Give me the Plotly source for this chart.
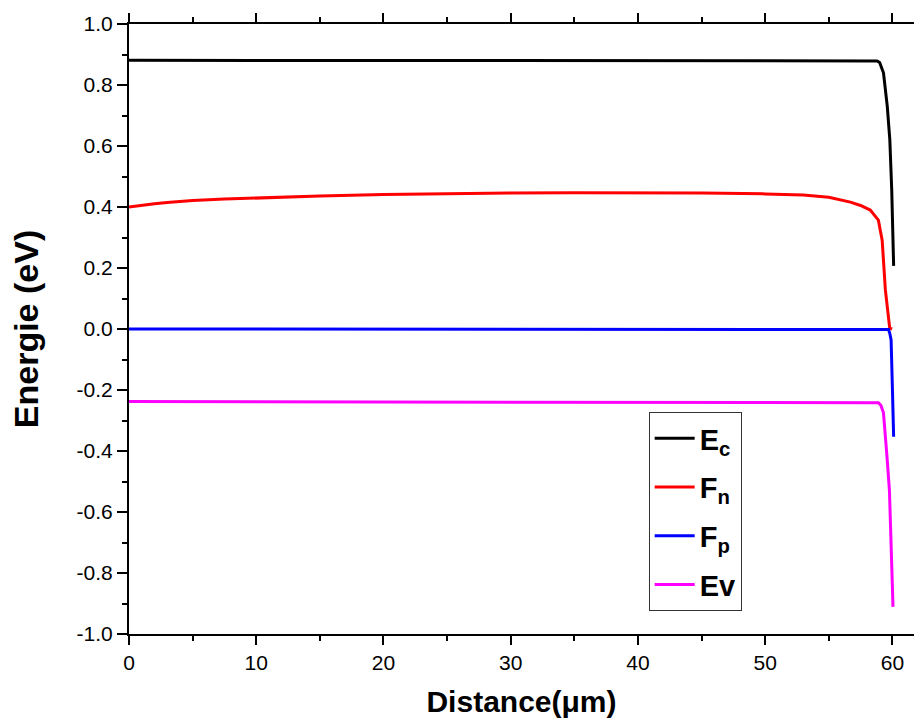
import plotly.graph_objects as go

# ---- data ----
x_ec = [0, 10, 20, 30, 40, 50, 58.8, 59.0, 59.15, 59.3, 59.6, 59.8, 59.95, 60.1]
ec = [0.881, 0.881, 0.880, 0.880, 0.879, 0.879, 0.879, 0.874, 0.860, 0.840, 0.730, 0.620, 0.455, 0.207]

x_fn = [0, 1, 2, 3, 5, 7.5, 10, 15, 20, 25, 30, 35, 40, 45, 50, 53, 55, 56.7, 57.5,
        58.26, 58.9, 59.2, 59.45, 59.79, 59.98]
fn = [0.400, 0.406, 0.411, 0.415, 0.421, 0.426, 0.430, 0.436, 0.441, 0.444, 0.446,
      0.447, 0.447, 0.446, 0.443, 0.439, 0.432, 0.416, 0.405, 0.390, 0.357, 0.290,
      0.128, 0.003, 0.000]

x_fp = [0, 30, 59.7, 59.8, 59.9, 60.0, 60.1]
fp = [0.000, -0.001, -0.002, -0.015, -0.036, -0.190, -0.353]

x_ev = [0, 30, 58.7, 58.9, 59.1, 59.3, 59.58, 59.77, 60.05]
ev = [-0.238, -0.240, -0.240, -0.242, -0.250, -0.275, -0.420, -0.530, -0.911]

series_names = ["<b>E<sub>c</sub></b>", "<b>F<sub>n</sub></b>", "<b>F<sub>p</sub></b>", "<b>Ev</b>"]
series_colors = ["#000000", "#ff0000", "#0000ff", "#ff00ff"]

y_tickvals = [1.0, 0.8, 0.6, 0.4, 0.2, 0.0, -0.2, -0.4, -0.6, -0.8, -1.0]
y_ticktext = ["1.0", "0.8", "0.6", "0.4", "0.2", "0.0", "-0.2", "-0.4", "-0.6", "-0.8", "-1.0"]
x_tickvals = [0, 10, 20, 30, 40, 50, 60]

FONT = "Liberation Sans, Arial, sans-serif"

fig = go.Figure()
for i, (xs, ys, name, col) in enumerate(zip([x_ec, x_fn, x_fp, x_ev], [ec, fn, fp, ev],
                                             series_names, series_colors)):
    fig.add_trace(go.Scatter(x=xs, y=ys, mode="lines", name=name, legendgroup=f"g{i}",
                             line=dict(color=col, width=3)))

fig.update_layout(
    width=914, height=724,
    margin=dict(l=129, r=0, t=24, b=90),
    paper_bgcolor="white", plot_bgcolor="white",
    font=dict(family=FONT, color="black", size=21),
    showlegend=True,
    legend=dict(
        x=0.662, y=0.364, xanchor="left", yanchor="top",
        bgcolor="white", bordercolor="#333333", borderwidth=1,
        font=dict(family=FONT, size=29, color="black"),
        tracegroupgap=8, itemwidth=40,
    ),
)

fig.update_xaxes(
    range=[0, 61.7], tickvals=x_tickvals,
    showline=True, linecolor="black", linewidth=2, mirror="allticks",
    ticks="outside", ticklen=9, tickwidth=2, tickcolor="black",
    minor=dict(dtick=5, ticks="outside", ticklen=5, tickwidth=2, tickcolor="black"),
    showgrid=False, zeroline=False,
    tickfont=dict(family=FONT, size=21),
    title=dict(text="<b>Distance(μm)</b>", font=dict(family=FONT, size=30), standoff=18),
)

fig.update_yaxes(
    range=[-1.0, 1.0], tickvals=y_tickvals, ticktext=y_ticktext,
    showline=True, linecolor="black", linewidth=2, mirror=False,
    ticks="outside", ticklen=10, tickwidth=2, tickcolor="black",
    minor=dict(dtick=0.1, ticks="outside", ticklen=5, tickwidth=2, tickcolor="black"),
    showgrid=False, zeroline=False,
    tickfont=dict(family=FONT, size=21),
    title=dict(text="<b>Energie (eV)</b>", font=dict(family=FONT, size=34), standoff=28),
)

fig.write_html("out.html", config={"displayModeBar": False},
               post_script="document.body.style.margin='0';document.body.style.overflow='hidden';")
